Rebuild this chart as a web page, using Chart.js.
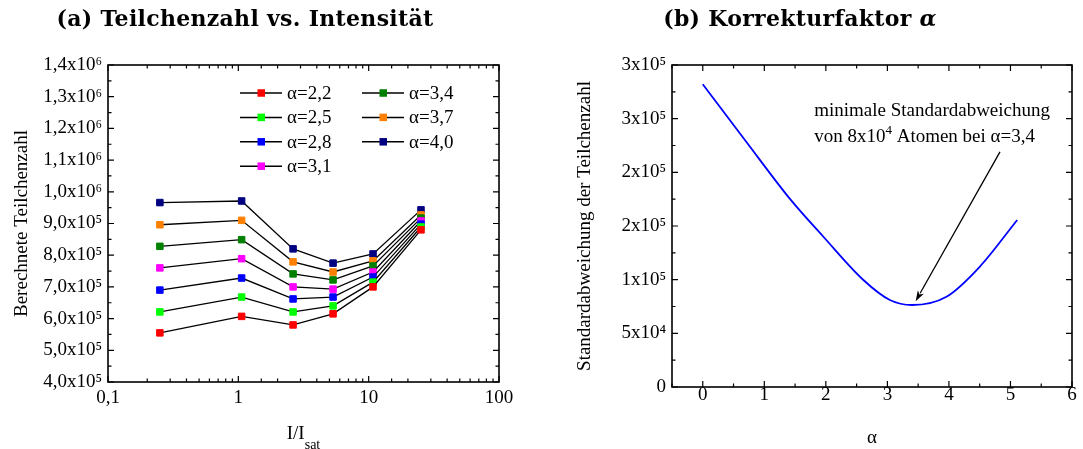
<!DOCTYPE html>
<html>
<head>
<meta charset="utf-8">
<script src="https://cdn.jsdelivr.net/npm/chart.js@4"></script>
<style>
  body { margin: 0; background: #fff; }
  #wrap { position: relative; width: 1083px; height: 449px; }
  canvas { position: absolute; top: 0; }
  .ttl { position: absolute; top: 5px; font: bold 22px 'DejaVu Serif', serif; letter-spacing: 0.3px; text-align: center; color: #000; }
</style>
</head>
<body>
<div id="wrap">
  <canvas id="countChart" width="540" height="449" style="left:0"></canvas>
  <canvas id="alphaChart" width="543" height="449" style="left:540px"></canvas>
  <div class="ttl" style="left:0;width:490px">(a) Teilchenzahl vs. Intensität</div>
  <div class="ttl" style="left:540px;width:520px">(b) Korrekturfaktor <i>α</i></div>
</div>
<script>
// (a) particle number vs. intensity, one series per alpha
const intensity = [0.25, 1.06, 2.63, 5.33, 10.8, 25.2];
const alphaLabels = ["α=2,2", "α=2,5", "α=2,8", "α=3,1", "α=3,4", "α=3,7", "α=4,0"];
const alphaColors = ["#ff0000", "#00ff00", "#0000ff", "#ff00ff", "#008000", "#ff8000", "#000080"];
const n22 = [5.55e5, 6.07e5, 5.80e5, 6.15e5, 7.00e5, 8.80e5];
const n25 = [6.21e5, 6.68e5, 6.21e5, 6.40e5, 7.15e5, 8.89e5];
const n28 = [6.90e5, 7.28e5, 6.62e5, 6.68e5, 7.31e5, 8.98e5];
const n31 = [7.60e5, 7.89e5, 7.00e5, 6.93e5, 7.47e5, 9.08e5];
const n34 = [8.28e5, 8.49e5, 7.41e5, 7.22e5, 7.66e5, 9.17e5];
const n37 = [8.96e5, 9.10e5, 7.79e5, 7.47e5, 7.82e5, 9.27e5];
const n40 = [9.66e5, 9.71e5, 8.20e5, 7.75e5, 8.04e5, 9.43e5];
const countSeries = [n22, n25, n28, n31, n34, n37, n40];

// (b) standard deviation vs. alpha
const alphaScan = [0, 0.7, 1.42, 1.96, 2.61, 3.04, 3.40, 3.96, 4.50, 5.11];
const stdDev = [2.82e5, 2.29e5, 1.75e5, 1.40e5, 9.97e4, 8.11e4, 7.64e4, 8.41e4, 1.12e5, 1.556e5];
const noteAt = [1.81, 2.57e5];
const arrowFrom = [4.83, 2.19e5];
const arrowTo = [3.46, 8.0e4];

Chart.defaults.font.family = "'Liberation Serif', 'Times New Roman', serif";
Chart.defaults.font.size = 19;
Chart.defaults.color = "#000";

const sup = { 4: "⁴", 5: "⁵", 6: "⁶" };
const SERIF = "'Liberation Serif', 'Times New Roman', serif";

// box with inward ticks on all four sides
const frame = {
  id: "frame",
  afterDraw(chart) {
    const { ctx, chartArea: a } = chart;
    const xs = chart.scales.x, ys = chart.scales.y;
    ctx.save();
    ctx.strokeStyle = "#000";
    ctx.lineWidth = 1.2;
    ctx.beginPath();
    xs.ticks.forEach((t, i) => {
      const p = xs.getPixelForTick(i);
      const l = t.label ? 6 : 3.5;
      ctx.moveTo(p, a.bottom); ctx.lineTo(p, a.bottom - l);
      ctx.moveTo(p, a.top); ctx.lineTo(p, a.top + l);
    });
    ys.ticks.forEach((t, i) => {
      const p = ys.getPixelForTick(i);
      const l = t.label ? 6 : 3.5;
      ctx.moveTo(a.left, p); ctx.lineTo(a.left + l, p);
      ctx.moveTo(a.right, p); ctx.lineTo(a.right - l, p);
    });
    ctx.stroke();
    ctx.lineWidth = 1.6;
    ctx.strokeRect(a.left, a.top, a.right - a.left, a.bottom - a.top);
    ctx.restore();
  }
};

// legend inside the plot: 2 columns, line-square-line symbol
const insideLegend = {
  id: "insideLegend",
  afterDraw(chart) {
    const { ctx, chartArea: a } = chart;
    ctx.save();
    ctx.font = "19px " + SERIF;
    ctx.textBaseline = "middle";
    chart.data.datasets.forEach((ds, i) => {
      const col = i < 4 ? 0 : 1;
      const row = i < 4 ? i : i - 4;
      const x0 = a.left + 132 + col * 122;
      const y0 = a.top + 28 + row * 24.4;
      ctx.strokeStyle = "#000";
      ctx.lineWidth = 1.5;
      ctx.beginPath();
      ctx.moveTo(x0, y0); ctx.lineTo(x0 + 42, y0);
      ctx.stroke();
      ctx.fillStyle = ds.pointBackgroundColor;
      ctx.fillRect(x0 + 17.5, y0 - 3.75, 7.5, 7.5);
      ctx.fillStyle = "#000";
      ctx.fillText(ds.label, x0 + 47, y0 + 1);
    });
    ctx.restore();
  }
};

// x axis title with subscript
const xTitleSub = {
  id: "xTitleSub",
  afterDraw(chart) {
    const { ctx, chartArea: a } = chart;
    ctx.save();
    ctx.fillStyle = "#000";
    ctx.textBaseline = "middle";
    ctx.font = "19px " + SERIF;
    const w1 = ctx.measureText("I/I").width;
    ctx.font = "14px " + SERIF;
    const w2 = ctx.measureText("sat").width;
    const x0 = (a.left + a.right) / 2 - (w1 + w2) / 2;
    ctx.font = "19px " + SERIF;
    ctx.fillText("I/I", x0, a.bottom + 52);
    ctx.font = "14px " + SERIF;
    ctx.fillText("sat", x0 + w1, a.bottom + 63);
    ctx.restore();
  }
};

// text note and arrow in panel (b)
const note = {
  id: "note",
  afterDraw(chart) {
    const { ctx } = chart;
    const xs = chart.scales.x, ys = chart.scales.y;
    ctx.save();
    ctx.fillStyle = "#000";
    ctx.strokeStyle = "#000";
    ctx.textBaseline = "middle";
    const tx = xs.getPixelForValue(noteAt[0]);
    const ty = ys.getPixelForValue(noteAt[1]);
    ctx.font = "19px " + SERIF;
    ctx.fillText("minimale Standardabweichung", tx, ty);
    let x = tx;
    const y2 = ty + 26;
    ctx.fillText("von 8x10", x, y2);
    x += ctx.measureText("von 8x10").width;
    ctx.font = "13px " + SERIF;
    ctx.fillText("4", x, y2 - 7);
    x += ctx.measureText("4").width;
    ctx.font = "19px " + SERIF;
    ctx.fillText(" Atomen bei α=3,4", x, y2);

    const x0 = xs.getPixelForValue(arrowFrom[0]), y0 = ys.getPixelForValue(arrowFrom[1]);
    const x1 = xs.getPixelForValue(arrowTo[0]), y1 = ys.getPixelForValue(arrowTo[1]);
    const ang = Math.atan2(y1 - y0, x1 - x0);
    const L = 11, W = 0.32;
    ctx.lineWidth = 1.3;
    ctx.beginPath();
    ctx.moveTo(x0, y0);
    ctx.lineTo(x1 - (L - 2) * Math.cos(ang), y1 - (L - 2) * Math.sin(ang));
    ctx.stroke();
    ctx.beginPath();
    ctx.moveTo(x1, y1);
    ctx.lineTo(x1 - L * Math.cos(ang - W), y1 - L * Math.sin(ang - W));
    ctx.lineTo(x1 - L * 0.7 * Math.cos(ang), y1 - L * 0.7 * Math.sin(ang));
    ctx.lineTo(x1 - L * Math.cos(ang + W), y1 - L * Math.sin(ang + W));
    ctx.closePath();
    ctx.fill();
    ctx.restore();
  }
};

const noGrid = { display: false, drawTicks: false };

new Chart(document.getElementById("countChart"), {
  type: "scatter",
  data: {
    datasets: countSeries.map((vals, i) => ({
      label: alphaLabels[i],
      data: vals.map((v, j) => ({ x: intensity[j], y: v })),
      showLine: true,
      borderColor: "#000",
      borderWidth: 1.3,
      pointStyle: "rect",
      pointRadius: 4.6,
      pointBorderWidth: 1,
      pointBackgroundColor: alphaColors[i],
      pointBorderColor: alphaColors[i],
    })),
  },
  options: {
    responsive: false,
    animation: false,
    devicePixelRatio: 1,
    layout: { padding: { top: 65, right: 41, left: 0, bottom: 0 } },
    plugins: { legend: { display: false }, tooltip: { enabled: false } },
    scales: {
      x: {
        type: "logarithmic",
        min: 0.1,
        max: 100,
        grid: noGrid,
        border: { display: false },
        ticks: {
          autoSkip: false,
          maxRotation: 0,
          padding: 5,
          callback: (v) => {
            const l = Math.log10(v);
            if (Math.abs(l - Math.round(l)) > 1e-6) return "";
            return v < 1 ? "0,1" : String(Math.round(v));
          },
        },
        afterFit: (s) => { s.height = 67; },
      },
      y: {
        min: 4e5,
        max: 1.4e6,
        grid: noGrid,
        border: { display: false },
        title: { display: true, text: "Berechnete Teilchenzahl", padding: { top: 11, bottom: 0 } },
        ticks: {
          stepSize: 5e4,
          autoSkip: false,
          padding: 6,
          callback: (v) => {
            if (v % 1e5 !== 0) return "";
            const e = Math.floor(Math.log10(v) + 1e-9);
            return (v / 10 ** e).toFixed(1).replace(".", ",") + "x10" + sup[e];
          },
        },
        afterFit: (s) => { s.width = 108; },
      },
    },
  },
  plugins: [frame, insideLegend, xTitleSub],
});

new Chart(document.getElementById("alphaChart"), {
  type: "scatter",
  data: {
    datasets: [{
      label: "Standardabweichung",
      data: alphaScan.map((a, i) => ({ x: a, y: stdDev[i] })),
      showLine: true,
      borderColor: "#0000ff",
      borderWidth: 1.8,
      pointRadius: 0,
      cubicInterpolationMode: "monotone",
    }],
  },
  options: {
    responsive: false,
    animation: false,
    devicePixelRatio: 1,
    layout: { padding: { top: 65, right: 11, left: 0, bottom: 0 } },
    plugins: { legend: { display: false }, tooltip: { enabled: false } },
    scales: {
      x: {
        min: -0.5,
        max: 6,
        grid: noGrid,
        border: { display: false },
        title: { display: true, text: "α", padding: { top: 0, bottom: 0 } },
        ticks: {
          stepSize: 0.5,
          autoSkip: false,
          maxRotation: 0,
          padding: -3,
          callback: (v) => (Number.isInteger(v) ? String(v) : ""),
        },
        afterFit: (s) => { s.height = 62; },
      },
      y: {
        min: 0,
        max: 3e5,
        grid: noGrid,
        border: { display: false },
        title: { display: true, text: "Standardabweichung der Teilchenzahl", padding: { top: 34, bottom: 0 } },
        ticks: {
          stepSize: 25000,
          autoSkip: false,
          padding: 6,
          callback: (v) => {
            if (v % 50000 !== 0) return "";
            if (v === 0) return "0";
            const e = Math.floor(Math.log10(v) + 1e-9);
            return Math.round(v / 10 ** e) + "x10" + sup[e];
          },
        },
        afterFit: (s) => { s.width = 132; },
      },
    },
  },
  plugins: [frame, note],
});
</script>
</body>
</html>
